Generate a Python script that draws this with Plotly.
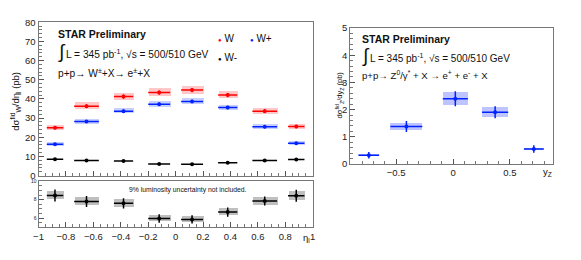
import plotly.graph_objects as go

# ---- W data (eta_l bins) ----
eta_center = [-0.88, -0.65, -0.38, -0.12, 0.12, 0.38, 0.65, 0.88]
eta_half = [0.06, 0.09, 0.07, 0.08, 0.08, 0.07, 0.09, 0.06]
w_tot = [25.0, 36.2, 41.2, 43.3, 44.6, 42.0, 33.6, 25.6]
w_tot_stat = [0.9, 1.0, 1.1, 1.1, 1.1, 1.1, 1.0, 0.9]
w_tot_sys = [1.4, 1.8, 1.9, 2.0, 2.0, 1.9, 1.7, 1.3]
w_plus = [16.3, 28.2, 33.6, 37.2, 38.7, 35.5, 25.5, 16.8]
w_plus_stat = [0.7, 0.8, 0.9, 0.9, 0.9, 0.9, 0.8, 0.7]
w_plus_sys = [1.0, 1.3, 1.3, 1.4, 1.4, 1.3, 1.2, 1.0]
w_minus = [8.45, 7.8, 7.6, 5.95, 5.85, 6.65, 7.85, 8.42]
w_minus_stat = [0.65, 0.6, 0.55, 0.45, 0.45, 0.5, 0.5, 0.65]
w_minus_sys = [0.45, 0.45, 0.4, 0.35, 0.35, 0.4, 0.45, 0.5]
eta_ticks = [-1, -0.8, -0.6, -0.4, -0.2, 0, 0.2, 0.4, 0.6, 0.8, 1]
eta_tick_text = ["−1", "−0.8", "−0.6", "−0.4", "−0.2", "0", "0.2", "0.4", "0.6", "0.8", "1"]

# ---- Z data (y_Z bins) ----
yz_center = [-0.74, -0.41, 0.02, 0.37, 0.71]
yz_half = [0.09, 0.14, 0.11, 0.115, 0.087]
z_val = [0.32, 1.38, 2.40, 1.90, 0.55]
z_stat = [0.12, 0.2, 0.28, 0.22, 0.14]
z_sys = [0.03, 0.13, 0.23, 0.19, 0.05]

FONT = "Liberation Sans, Arial, sans-serif"

fig = go.Figure()


def add_series(x, xh, y, stat, sys, color, boxcolor, xa, ya, name):
    fig.add_trace(go.Bar(
        x=x, y=[2 * s for s in sys], base=[v - s for v, s in zip(y, sys)],
        width=[2 * h for h in xh], marker=dict(color=boxcolor, line=dict(width=0)),
        xaxis=xa, yaxis=ya, showlegend=False, hoverinfo="skip", name=name + " sys"))
    fig.add_trace(go.Scatter(
        x=x, y=y, mode="markers",
        marker=dict(color=color, size=4),
        error_x=dict(type="data", array=xh, color=color, thickness=1.5, width=0),
        error_y=dict(type="data", array=stat, color=color, thickness=1.5, width=0),
        xaxis=xa, yaxis=ya, showlegend=False, name=name))


add_series(eta_center, eta_half, w_tot, w_tot_stat, w_tot_sys, "#ff0000", "rgba(255,0,0,0.22)", "x", "y", "W")
add_series(eta_center, eta_half, w_plus, w_plus_stat, w_plus_sys, "#0022ff", "rgba(0,40,255,0.22)", "x", "y", "W+")
add_series(eta_center, eta_half, w_minus, [0.2] * 8, [0.0] * 8, "#000000", "rgba(0,0,0,0.2)", "x", "y", "W-")
add_series(eta_center, eta_half, w_minus, w_minus_stat, w_minus_sys, "#000000", "rgba(0,0,0,0.25)", "x2", "y2", "W- zoom")
add_series(yz_center, yz_half, z_val, z_stat, z_sys, "#0022ff", "rgba(40,60,255,0.3)", "x3", "y3", "Z")

base_axis = dict(
    showgrid=False, zeroline=False, ticks="inside", showline=True, mirror=True,
    linecolor="#777777", linewidth=1, tickcolor="#555555", ticklen=5,
    tickfont=dict(family=FONT, size=9.5, color="#222222"),
)


def minor(dt):
    return dict(ticks="inside", ticklen=3, tickcolor="#777777", dtick=dt)


fig.update_layout(
    width=581, height=260, margin=dict(l=0, r=0, t=0, b=0),
    paper_bgcolor="white", plot_bgcolor="white", barmode="overlay", bargap=0,
    font=dict(family=FONT),
    xaxis=dict(domain=[34 / 581, 312 / 581], range=[-1, 1], anchor="y",
               tickvals=eta_ticks, showticklabels=False, minor=minor(0.05), **base_axis),
    yaxis=dict(domain=[1 - 177 / 260, 1 - 17 / 260], range=[0, 80], anchor="x",
               dtick=10, minor=minor(2), **base_axis),
    xaxis2=dict(domain=[34 / 581, 312 / 581], range=[-1, 1], anchor="y2",
                tickvals=eta_ticks, ticktext=eta_tick_text, minor=minor(0.05), **base_axis),
    yaxis2=dict(domain=[1 - 231 / 260, 1 - 183 / 260], range=[5, 10], anchor="x2",
                tickvals=[6, 8, 10], minor=minor(0.5),
                **{k: (dict(family=FONT, size=5, color="#222222") if k == "tickfont" else v)
                   for k, v in base_axis.items()}),
    xaxis3=dict(domain=[350 / 581, 555.7 / 581], range=[-0.904, 0.879], anchor="y3",
                tickvals=[-0.5, 0, 0.5], ticktext=["−0.5", "0", "0.5"], minor=minor(0.1), **base_axis),
    yaxis3=dict(domain=[1 - 165 / 260, 1 - 23 / 260], range=[0, 5], anchor="x3",
                dtick=1, minor=minor(0.2), **base_axis),
)

ann = []


def txt(x, y, text, size=8.5, bold=False, xanchor="left", yanchor="middle", angle=0, color="#111111"):
    ann.append(dict(x=x / 581, y=1 - y / 260, xref="paper", yref="paper", text=("<b>%s</b>" % text) if bold else text,
                    showarrow=False, xanchor=xanchor, yanchor=yanchor, textangle=angle, borderpad=0,
                    font=dict(family=FONT, size=size, color=color)))


# left panel texts
txt(53, 29, "STAR Preliminary", size=10.5, bold=True)
txt(53, 48, "∫", size=19)
txt(61, 50, "L = 345 pb<sup>-1</sup>, √s = 500/510 GeV", size=10.2)
txt(53, 70, "p+p→ W<sup>±</sup>+X→ e<sup>±</sup>+X", size=10.2)
# legend
txt(215, 34, "<span style='color:#ff0000;font-size:6px'>●</span> W", size=10)
txt(247, 34, "<span style='color:#0022ff;font-size:6px'>●</span> W+", size=10)
txt(215, 54, "<span style='color:#000000;font-size:6px'>●</span> W-", size=10)
# y titles
txt(11, 99, "dσ<sup>fid</sup><sub>W</sub>/dη<sub>l</sub> (pb)", size=9.5, xanchor="center", angle=-90)
txt(186, 192, "9% luminosity uncertainty not included.", size=6.8, xanchor="center")
txt(306, 242, "η<sub>l</sub>", size=9.5, xanchor="center")

# right panel texts
txt(361, 34, "STAR Preliminary", size=10.5, bold=True)
txt(361, 52, "∫", size=19)
txt(369, 54, "L = 345 pb<sup>-1</sup>, √s = 500/510 GeV", size=10)
txt(361, 72, "p+p→ Z<sup>0</sup>/γ<sup>*</sup> + X → e<sup>+</sup> + e<sup>-</sup> + X", size=9.6)
txt(339, 93, "dσ<sup>fid</sup><sub>Z</sub>/dy<sub>Z</sub> (pb)", size=7.5, xanchor="center", angle=-90)
txt(550, 173, "y<sub>Z</sub>", size=9.5, xanchor="center")

fig.update_layout(annotations=ann)
fig.write_html("out.html", post_script="document.body.style.margin='0';",
               config={"displayModeBar": False})
